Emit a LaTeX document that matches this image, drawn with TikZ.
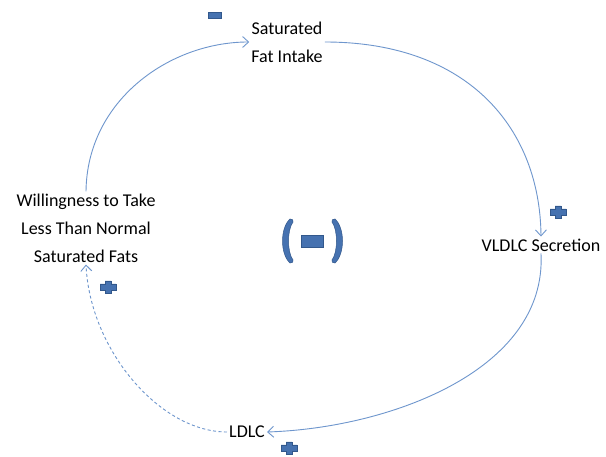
\documentclass[tikz,border=0pt]{standalone}
\usepackage{fontspec}
\setmainfont{Carlito}
\usetikzlibrary{arrows.meta}
\definecolor{linkc}{RGB}{110,150,205}
\definecolor{signf}{RGB}{70,114,176}
\definecolor{signd}{RGB}{50,88,140}
\tikzset{
  lbl/.style={font=\fontsize{18}{28}\selectfont, align=center, inner sep=2pt, text=black},
  link/.style={draw=linkc, line width=0.9pt, -{Straight Barb[length=6pt,width=11pt,line width=0.9pt]}},
  dashlink/.style={link, dash pattern=on 3pt off 2.5pt},
  signmark/.style={fill=signf, draw=signd, line width=0.6pt}
}
\newcommand{\plusmark}[2]{%
  \path[signmark] (#1-8,#2-3) -- (#1-3,#2-3) -- (#1-3,#2-6) -- (#1+3,#2-6) -- (#1+3,#2-3) -- (#1+8,#2-3)
   -- (#1+8,#2+3) -- (#1+3,#2+3) -- (#1+3,#2+6) -- (#1-3,#2+6) -- (#1-3,#2+3) -- (#1-8,#2+3) -- cycle;}
\begin{document}
\begin{tikzpicture}[x=1pt,y=-1pt]
\path[use as bounding box, fill=white] (0,0) rectangle (606,457);
\node[lbl] (sat) at (287,42) {Saturated\\Fat Intake};
\node[lbl] (vldlc) at (541,245) {VLDLC Secretion};
\node[lbl] (ldlc) at (247,432) {LDLC};
\node[lbl] (will) at (86,228) {Willingness to Take\\Less Than Normal\\Saturated Fats};
\coordinate (c) at (312,242);
% connectors
\draw[link] (will.north) .. controls (87,100) and (170,42) .. (sat.west);
\draw[link] (sat.east) .. controls (470,42) and (540,130) .. (vldlc.north);
\draw[link] (vldlc.south) .. controls (547,370) and (390,428) .. (ldlc.east);
\draw[dashlink] (ldlc.west) .. controls (160,432) and (90,350) .. (will.south);
% signs
\path[signmark] (208,12) rectangle (221,18);
\plusmark{558}{212}
\plusmark{108}{287}
\plusmark{289}{448}
% loop polarity
\path[fill=signf, draw=signd, line width=0.5pt] (290,219) .. controls (280,228) and (280,254) .. (290,263)
  .. controls (292,263) and (294,262) .. (293,260) .. controls (287,252) and (287,230) .. (293,222)
  .. controls (294,220) and (292,219) .. (290,219) -- cycle;
\path[fill=signf, draw=signd, line width=0.5pt] (335,219) .. controls (345,228) and (345,254) .. (335,263)
  .. controls (333,263) and (331,262) .. (332,260) .. controls (338,252) and (338,230) .. (332,222)
  .. controls (331,220) and (333,219) .. (335,219) -- cycle;
\path[signmark] (301,235) rectangle (323,247);
\end{tikzpicture}
\end{document}
